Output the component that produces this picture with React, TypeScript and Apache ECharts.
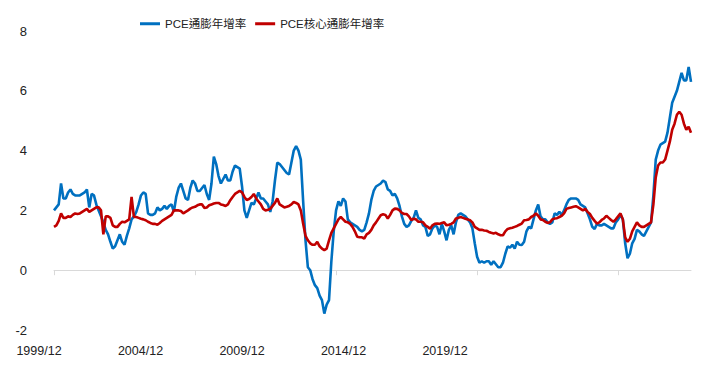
import React, { useEffect, useRef } from "react";
import * as echarts from "echarts";

// Monthly, 1999/12 .. 2022/07
const startYear = 1999;
const startMonth = 12;
const pointCount = 272;

const xTickLabels = ["1999/12", "2004/12", "2009/12", "2014/12", "2019/12"];
const yTicks = { min: -2, max: 8, interval: 2 };

const seriesNames = ["PCE通膨年增率", "PCE核心通膨年增率"];

// PCE 通膨年增率 (%)
const pceHeadline = [
  2.0,
  2.1, 2.2, 2.9, 2.4, 2.4, 2.6, 2.7, 2.55, 2.5, 2.5, 2.5, 2.55,
  2.6, 2.7, 2.1, 2.55, 2.5, 2.2, 2.0, 1.8, 1.6, 1.35, 1.2, 0.95,
  0.72, 0.8, 1.0, 1.2, 0.95, 0.85, 1.15, 1.4, 1.7, 1.8, 1.95, 2.2,
  2.5, 2.6, 2.55, 1.9, 1.85, 1.85, 1.9, 2.1, 2.0, 2.05, 2.15, 2.05,
  2.15, 2.2, 1.95, 2.45, 2.75, 2.9, 2.65, 2.4, 2.35, 2.75, 3.0, 2.9,
  2.65, 2.65, 2.75, 2.85, 2.55, 2.35, 2.9, 3.8, 3.55, 3.15, 2.9, 3.05,
  3.2, 3.0, 3.0, 3.3, 3.5, 3.45, 3.4, 2.8, 2.0, 1.75, 2.0, 2.25,
  2.2, 2.4, 2.6, 2.4, 2.4, 2.3, 2.2, 1.95, 2.3, 3.0, 3.6, 3.55,
  3.45, 3.35, 3.25, 3.2, 3.6, 4.0, 4.15, 4.0, 3.7, 2.3, 1.0, 0.1,
  0.0, -0.3, -0.5, -0.6, -0.85, -1.0, -1.45, -1.15, -1.0, 0.3, 1.3, 2.0,
  2.3, 2.15, 2.4, 2.3, 1.7, 1.6, 1.55, 1.5, 1.45, 1.35, 1.3, 1.35,
  1.6, 1.9, 2.35, 2.65, 2.8, 2.85, 2.9, 3.0, 2.95, 2.7, 2.65, 2.5,
  2.55, 2.4, 2.15, 1.8, 1.55, 1.45, 1.5, 1.65, 1.75, 2.0, 1.75, 1.7,
  1.5, 1.45, 1.15, 1.2, 1.4, 1.5, 1.45, 1.2, 1.55, 1.3, 1.0, 1.35,
  1.5, 1.2, 1.6, 1.85, 1.9, 1.85, 1.8, 1.7, 1.6, 1.4, 0.9, 0.45,
  0.25, 0.3, 0.25, 0.3, 0.3, 0.18, 0.3, 0.2, 0.1, 0.1, 0.25, 0.55,
  0.8, 0.75, 0.85, 0.72, 0.95, 0.85, 0.84, 0.95, 1.3, 1.45, 1.4, 1.7,
  2.0, 2.2, 1.8, 1.7, 1.7, 1.6, 1.55, 1.6, 1.9, 1.85, 1.95, 1.85,
  2.0, 2.2, 2.35, 2.4, 2.4, 2.4, 2.35, 2.2, 2.15, 2.1, 1.9, 1.7,
  1.45, 1.38, 1.55, 1.5, 1.5, 1.55, 1.5, 1.45, 1.4, 1.4, 1.6, 1.7,
  1.85, 1.7, 0.9, 0.4, 0.55, 0.9, 1.05, 1.35, 1.3, 1.2, 1.15, 1.3,
  1.45, 1.6, 2.5, 3.7, 4.0, 4.2, 4.25, 4.3, 4.6, 5.1, 5.6, 5.8,
  6.0, 6.3, 6.6, 6.35, 6.35, 6.8, 6.3,
];

// PCE 核心通膨年增率 (%)
const pceCore = [
  1.45,
  1.5, 1.65, 1.9, 1.75, 1.75, 1.8, 1.78, 1.85, 1.9, 1.88, 1.9, 1.95,
  2.0, 2.05, 1.95, 2.0, 2.05, 2.1, 2.1, 2.0, 1.2, 1.8, 1.8, 1.75,
  1.5, 1.45, 1.45, 1.55, 1.62, 1.6, 1.65, 1.7, 2.45, 1.78, 1.78, 1.75,
  1.72, 1.7, 1.67, 1.62, 1.58, 1.55, 1.55, 1.52, 1.58, 1.65, 1.7, 1.75,
  1.8, 1.85, 2.0, 2.0, 2.0, 1.98, 1.9, 1.95, 2.0, 2.06, 2.1, 2.12,
  2.17, 2.2, 2.2, 2.08, 2.1, 2.17, 2.2, 2.23, 2.25, 2.25, 2.2, 2.18,
  2.15, 2.2, 2.34, 2.45, 2.55, 2.6, 2.65, 2.6, 2.45, 2.35, 2.38, 2.45,
  2.55, 2.4, 2.3, 2.2, 2.05, 2.0, 2.02, 2.05, 2.15, 2.25, 2.4, 2.2,
  2.15, 2.1, 2.12, 2.15, 2.2, 2.28, 2.25, 2.2, 2.0, 1.55, 1.15, 1.0,
  0.9, 0.85, 0.85, 0.95, 0.8, 0.72, 0.67, 0.72, 1.0, 1.25, 1.4, 1.55,
  1.7, 1.78, 1.7, 1.62, 1.6, 1.55, 1.45, 1.3, 1.12, 1.1, 1.1, 1.06,
  1.2, 1.25, 1.35, 1.5, 1.6, 1.72, 1.84, 1.87, 1.85, 1.73, 1.85, 2.0,
  2.06, 2.05, 2.0, 1.92, 1.88, 1.88, 1.8, 1.68, 1.72, 1.7, 1.62, 1.62,
  1.6, 1.5, 1.45, 1.39, 1.5, 1.55, 1.56, 1.55, 1.58, 1.6, 1.5, 1.52,
  1.55, 1.6, 1.73, 1.75, 1.78, 1.75, 1.72, 1.7, 1.67, 1.6, 1.45, 1.4,
  1.35, 1.35, 1.33, 1.32, 1.28, 1.25, 1.23, 1.25, 1.2, 1.17, 1.17, 1.3,
  1.38, 1.4, 1.42, 1.45, 1.48, 1.52, 1.56, 1.67, 1.68, 1.7, 1.78, 1.82,
  1.9, 1.82, 1.7, 1.68, 1.62, 1.58, 1.6, 1.7, 1.73, 1.74, 1.78, 1.82,
  1.9, 2.05, 2.08, 2.1, 2.12, 2.14, 2.1, 2.05, 2.0, 2.05, 1.95, 1.88,
  1.75, 1.65, 1.56, 1.6, 1.68, 1.73, 1.82, 1.75, 1.68, 1.62, 1.7, 1.8,
  1.9, 1.7, 1.1, 0.95, 1.05, 1.3, 1.45, 1.6, 1.5, 1.45, 1.45, 1.5,
  1.55, 1.6, 2.2, 3.1, 3.5, 3.6, 3.6, 3.7, 4.0, 4.3, 4.7, 4.9,
  5.2, 5.3, 5.2, 4.9, 4.7, 4.8, 4.6,
];

const months: string[] = [];
for (let k = 0; k < pointCount; k++) {
  const m0 = startMonth - 1 + k;
  const y = startYear + Math.floor(m0 / 12);
  const m = (m0 % 12) + 1;
  months.push(`${y}/${m < 10 ? "0" + m : m}`);
}

const NUM_FONT = '"Liberation Sans", "Noto Sans CJK TC", sans-serif';
const LEGEND_FONT = '"Liberation Sans", "Noto Sans CJK TC", sans-serif';

export default function App() {
  const ref = useRef<HTMLDivElement>(null);
  useEffect(() => {
    if (!ref.current) return;
    const chart = echarts.init(ref.current, null, { renderer: "svg" });
    chart.setOption({
      animation: false,
      backgroundColor: "#ffffff",
      legend: {
        left: 135,
        top: 13,
        icon: "rect",
        itemWidth: 20,
        itemHeight: 3,
        itemGap: 9,
        textStyle: { fontFamily: LEGEND_FONT, fontSize: 11.5, color: "#222" },
        data: seriesNames,
      },
      grid: [
        { left: 54, right: 37, top: 31, height: 299 },
        { left: 39, width: 406, top: 330, height: 1 },
      ],
      xAxis: [
        {
          type: "category",
          gridIndex: 0,
          data: months,
          boundaryGap: false,
          axisLine: { onZero: true, lineStyle: { color: "#d9d9d9", width: 1 } },
          axisTick: {
            show: true,
            inside: false,
            length: 5,
            interval: (index: number) => index % 60 === 0,
            lineStyle: { color: "#d9d9d9" },
          },
          axisLabel: { show: false },
          splitLine: { show: false },
        },
        {
          type: "category",
          gridIndex: 1,
          data: xTickLabels,
          boundaryGap: false,
          position: "bottom",
          axisLine: { show: false },
          axisTick: { show: false },
          axisLabel: {
            show: true,
            interval: 0,
            margin: 14,
            fontFamily: NUM_FONT,
            fontSize: 12.5,
            color: "#222",
          },
          splitLine: { show: false },
        },
      ],
      yAxis: [
        {
          type: "value",
          gridIndex: 0,
          min: yTicks.min,
          max: yTicks.max,
          interval: yTicks.interval,
          axisLine: { show: false },
          axisTick: { show: false },
          splitLine: { show: false },
          axisLabel: {
            margin: 27,
            fontFamily: NUM_FONT,
            fontSize: 13,
            color: "#222",
          },
        },
        {
          type: "value",
          gridIndex: 1,
          show: false,
          min: 0,
          max: 1,
        },
      ],
      series: [
        {
          name: seriesNames[0],
          type: "line",
          xAxisIndex: 0,
          yAxisIndex: 0,
          data: pceHeadline,
          showSymbol: false,
          symbol: "none",
          lineStyle: { color: "#0070c0", width: 2.6 },
          itemStyle: { color: "#0070c0" },
          z: 2,
        },
        {
          name: seriesNames[1],
          type: "line",
          xAxisIndex: 0,
          yAxisIndex: 0,
          data: pceCore,
          showSymbol: false,
          symbol: "none",
          lineStyle: { color: "#c00000", width: 2.6 },
          itemStyle: { color: "#c00000" },
          z: 3,
        },
      ],
    });
    return () => chart.dispose();
  }, []);
  return (
    <div
      ref={ref}
      style={{ position: "fixed", left: 0, top: 0, width: 728, height: 381, background: "#fff" }}
    />
  );
}
